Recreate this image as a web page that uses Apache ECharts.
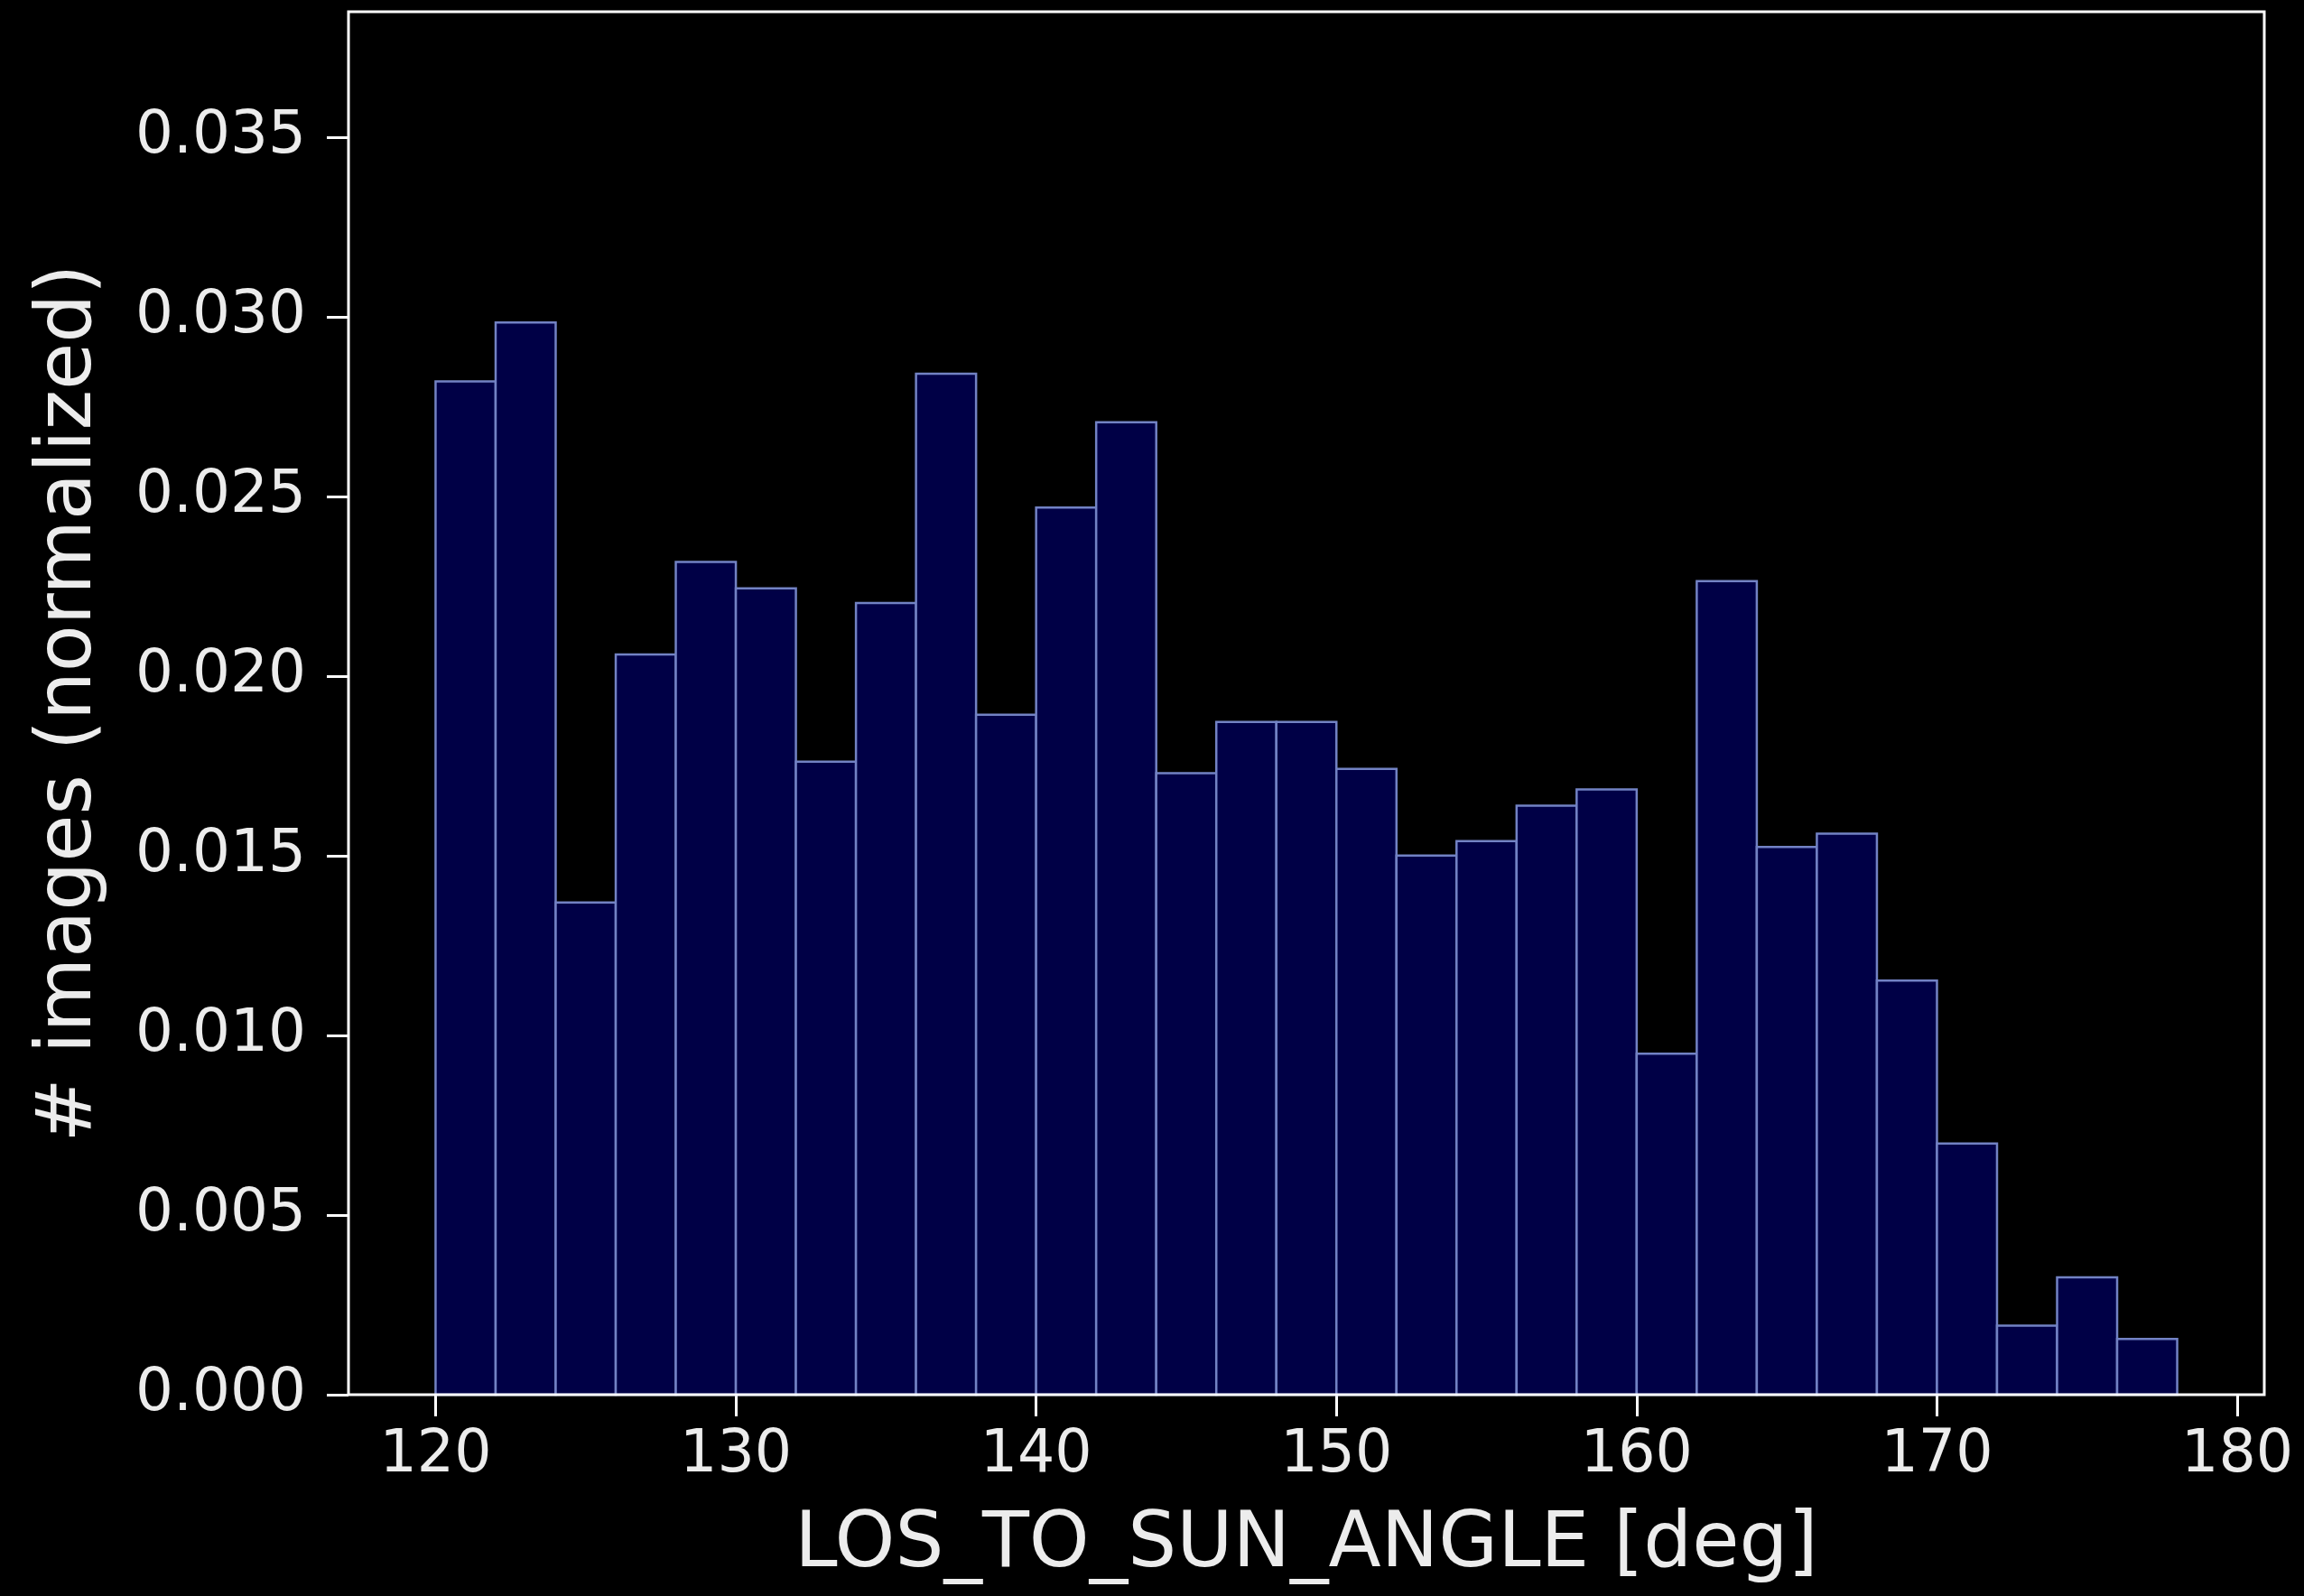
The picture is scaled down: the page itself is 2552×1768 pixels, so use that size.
<!DOCTYPE html>
<html>
<head>
<meta charset="utf-8">
<title>LOS_TO_SUN_ANGLE histogram</title>
<script src="https://cdn.jsdelivr.net/npm/echarts@6/dist/echarts.min.js"></script>
<style>
  html, body { margin: 0; padding: 0; background: #000; }
  #chart { width: 2552px; height: 1768px; }
</style>
</head>
<body>
<div id="chart"></div>
<script>
// Histogram bin edges [deg]
const binEdges = [120, 122, 124, 126, 128, 130, 132, 134, 136, 138, 140, 142, 144, 146, 148,
                  150, 152, 154, 156, 158, 160, 162, 164, 166, 168, 170, 172, 174, 176, 178];
// Normalized image count per bin
const density = [0.02821, 0.02985, 0.01370, 0.02061, 0.02318, 0.02245, 0.01762, 0.02204,
                 0.02842, 0.01893, 0.02470, 0.02707, 0.01730, 0.01873, 0.01873, 0.01742,
                 0.01501, 0.01541, 0.01640, 0.01685, 0.00949, 0.02265, 0.01525, 0.01562,
                 0.01153, 0.00699, 0.00192, 0.00327, 0.00155];
// Tick labels
const xTicks = [120, 130, 140, 150, 160, 170, 180];
const yTicks = [0, 0.005, 0.01, 0.015, 0.02, 0.025, 0.03, 0.035];

const bins = density.map((v, i) => [binEdges[i], binEdges[i + 1], v]);

const textColor = '#ececec';
const font = 'DejaVu Sans';

const chart = echarts.init(document.getElementById('chart'), null, { renderer: 'canvas' });
chart.setOption({
  backgroundColor: '#000000',
  animation: false,
  grid: {
    left: 386, right: 44, top: 13, bottom: 223, z: 10,
    show: true, borderColor: '#ffffff', borderWidth: 3, backgroundColor: 'transparent'
  },
  xAxis: {
    type: 'value', min: 117.1, max: 180.9,
    name: 'LOS_TO_SUN_ANGLE [deg]', nameLocation: 'middle', nameGap: 125,
    nameTextStyle: { color: textColor, fontFamily: font, fontSize: 85 },
    axisLine: { show: false },
    axisTick: { show: true, inside: false, length: 24, customValues: xTicks,
                lineStyle: { color: '#ffffff', width: 3 } },
    axisLabel: { color: textColor, fontFamily: font, fontSize: 65, margin: 36,
                 customValues: xTicks, formatter: v => String(v) },
    splitLine: { show: false }
  },
  yAxis: {
    type: 'value', min: 0, max: 0.0385,
    name: '# images (normalized)', nameLocation: 'middle', nameGap: 266,
    nameTextStyle: { color: textColor, fontFamily: font, fontSize: 85 },
    axisLine: { show: false },
    axisTick: { show: true, inside: false, length: 24, customValues: yTicks,
                lineStyle: { color: '#ffffff', width: 3 } },
    axisLabel: { color: textColor, fontFamily: font, fontSize: 66, margin: 47,
                 customValues: yTicks, formatter: v => v.toFixed(3) },
    splitLine: { show: false }
  },
  series: [{
    type: 'custom',
    data: bins,
    encode: { x: [0, 1], y: 2 },
    renderItem: function (params, api) {
      const topLeft = api.coord([api.value(0), api.value(2)]);
      const bottomRight = api.coord([api.value(1), 0]);
      return {
        type: 'rect',
        shape: {
          x: topLeft[0], y: topLeft[1],
          width: bottomRight[0] - topLeft[0],
          height: bottomRight[1] - topLeft[1]
        },
        style: { fill: '#000046', stroke: '#7282c4', lineWidth: 2.5 }
      };
    }
  }]
});
</script>
</body>
</html>
